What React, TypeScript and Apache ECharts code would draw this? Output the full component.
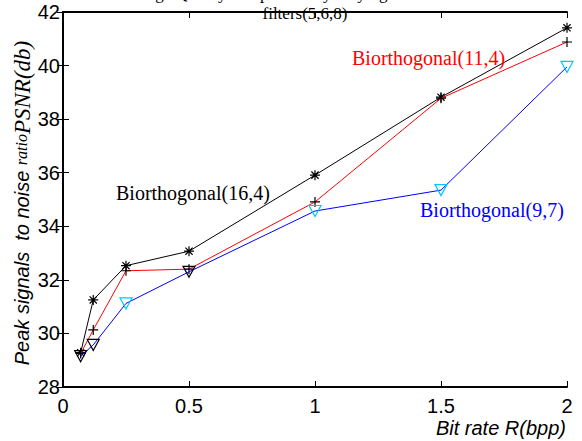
import React, { useEffect, useRef } from "react";
import * as echarts from "echarts";

const bitRates = [0.07, 0.12, 0.25, 0.5, 1, 1.5, 2];
const psnrBior16_4 = [29.28, 31.25, 32.53, 33.07, 35.91, 38.82, 41.41];
const psnrBior11_4 = [29.25, 30.13, 32.34, 32.4, 34.91, 38.78, 40.88];
const psnrBior9_7 = [29.15, 29.57, 31.12, 32.3, 34.57, 35.35, 39.95];
const triangleColors = ["#000000", "#000000", "#00c8ff", "#000000", "#00c8ff", "#00c8ff", "#00c8ff"];

const xTicks = { min: 0, max: 2, interval: 0.5 };
const yTicks = { min: 28, max: 42, interval: 2 };

const titleLines = ["Image Quality comparison by varying the order of", "filters(5,6,8)"];
const seriesNames = ["Biorthogonal(16,4)", "Biorthogonal(11,4)", "Biorthogonal(9,7)"];

const STAR = "path://M0,-1L0,1M-1,0L1,0M-0.72,-0.72L0.72,0.72M-0.72,0.72L0.72,-0.72";
const PLUS = "path://M0,-1L0,1M-1,0L1,0";

export default function App() {
  const ref = useRef<HTMLDivElement>(null);
  useEffect(() => {
    if (!ref.current) return;
    const chart = echarts.init(ref.current, null, { renderer: "svg" });
    const pair = (ys: number[]) => bitRates.map((x, i) => [x, ys[i]]);
    const labelFont = "'Liberation Sans', Arial, sans-serif";
    const serif = "'Liberation Serif', 'Times New Roman', serif";
    const axisLine = { show: true, lineStyle: { color: "#000", width: 2 } };
    chart.setOption({
      animation: false,
      backgroundColor: "#fff",
      grid: { left: 63, right: 15, top: 12, bottom: 54, containLabel: false },
      xAxis: [
        {
          type: "value", ...xTicks, position: "bottom",
          axisLine, splitLine: { show: false },
          axisTick: { inside: true, length: 6, lineStyle: { color: "#000", width: 1 } },
          axisLabel: { color: "#000", fontFamily: labelFont, fontSize: 20, margin: 9,
            formatter: (v: number) => String(v) },
        },
        {
          type: "value", ...xTicks, position: "top",
          axisLine, splitLine: { show: false },
          axisTick: { inside: true, length: 6, lineStyle: { color: "#000", width: 1 } },
          axisLabel: { show: false },
        },
      ],
      yAxis: [
        {
          type: "value", ...yTicks, position: "left",
          axisLine, splitLine: { show: false },
          axisTick: { inside: true, length: 6, lineStyle: { color: "#000", width: 1 } },
          axisLabel: { color: "#000", fontFamily: labelFont, fontSize: 20, margin: 3 },
        },
        {
          type: "value", ...yTicks, position: "right",
          axisLine, splitLine: { show: false },
          axisTick: { inside: true, length: 6, lineStyle: { color: "#000", width: 1 } },
          axisLabel: { show: false },
        },
      ],
      series: [
        {
          name: seriesNames[0], type: "line", data: pair(psnrBior16_4),
          symbol: STAR, symbolSize: 10,
          lineStyle: { color: "#000", width: 1 },
          itemStyle: { color: "#000", borderColor: "#000", borderWidth: 1.2 },
          z: 3,
        },
        {
          name: seriesNames[1], type: "line", data: pair(psnrBior11_4),
          symbol: PLUS, symbolSize: 10,
          lineStyle: { color: "#ff0000", width: 1 },
          itemStyle: { color: "#000", borderColor: "#000", borderWidth: 1.2 },
          z: 4,
        },
        {
          name: seriesNames[2], type: "line",
          data: pair(psnrBior9_7).map((d, i) => ({
            value: d,
            itemStyle: { color: "rgba(0,0,0,0)", borderColor: triangleColors[i], borderWidth: 1.2 },
          })),
          symbol: "triangle", symbolRotate: 180, symbolSize: [12, 11],
          lineStyle: { color: "#0000ff", width: 1 },
          itemStyle: { color: "rgba(0,0,0,0)" },
          z: 5,
        },
      ],
      graphic: [
        {
          type: "text", x: 300, y: -7, z: 10,
          style: { text: titleLines[0], font: `17px ${serif}`, fill: "#000", align: "center", verticalAlign: "middle" },
        },
        {
          type: "text", x: 305, y: 13, z: 10,
          style: { text: titleLines[1], font: `17px ${serif}`, fill: "#000", align: "center", verticalAlign: "middle" },
        },
        {
          type: "text", x: 116, y: 193, z: 10,
          style: { text: seriesNames[0], font: `20px ${serif}`, fill: "#000", align: "left", verticalAlign: "middle" },
        },
        {
          type: "text", x: 352, y: 58, z: 10,
          style: { text: seriesNames[1], font: `20px ${serif}`, fill: "#ff0000", align: "left", verticalAlign: "middle" },
        },
        {
          type: "text", x: 420, y: 210, z: 10,
          style: { text: seriesNames[2], font: `20px ${serif}`, fill: "#0000ff", align: "left", verticalAlign: "middle" },
        },
        {
          type: "text", x: 566, y: 428, z: 10,
          style: { text: "Bit rate R(bpp)", font: `italic 20px ${labelFont}`, fill: "#000", align: "right", verticalAlign: "middle" },
        },
        {
          type: "text", x: 22, y: 203, rotation: Math.PI / 2, z: 10,
          style: {
            text: "{a|Peak signals  to noise }{b|ratio}{c|PSNR(db)}",
            align: "center", verticalAlign: "middle",
            rich: {
              a: { fontFamily: labelFont, fontStyle: "italic", fontSize: 20, fill: "#000", color: "#000" },
              b: { fontFamily: serif, fontStyle: "italic", fontSize: 16, fill: "#000", color: "#000", padding: [0, 0, 2, 0] },
              c: { fontFamily: serif, fontStyle: "italic", fontSize: 23, fill: "#000", color: "#000" },
            },
          },
        },
      ],
    });
    return () => chart.dispose();
  }, []);
  return <div ref={ref} style={{ width: 582, height: 441, position: "absolute", left: 0, top: 0 }} />;
}
